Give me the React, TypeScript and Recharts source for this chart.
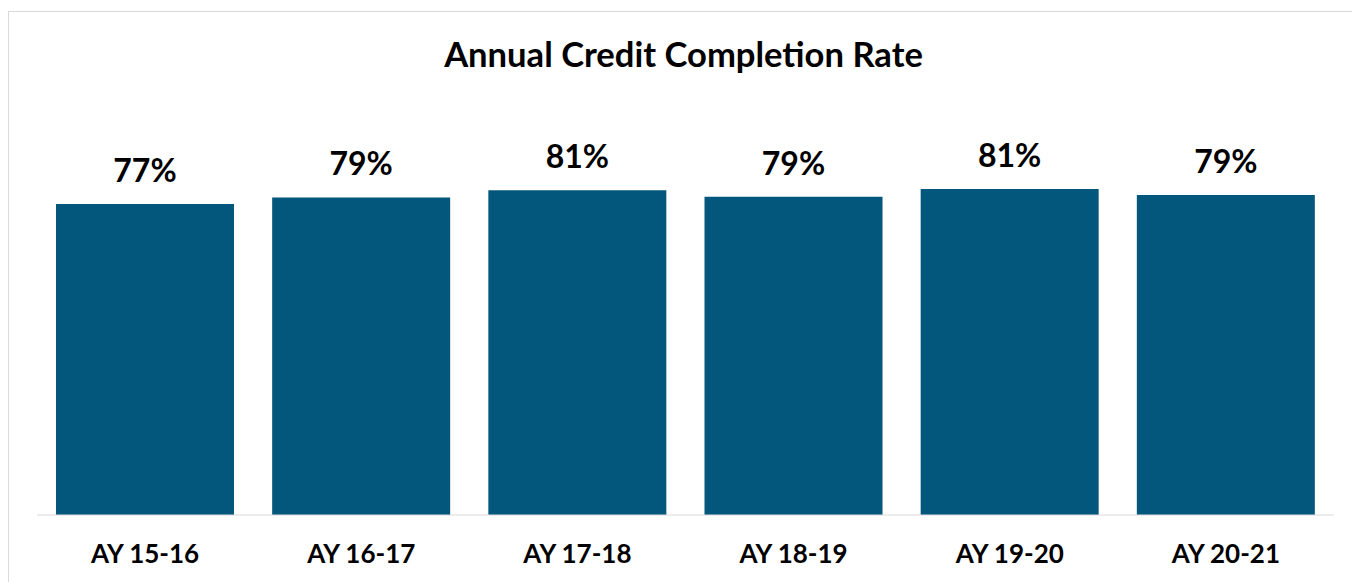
import React from "react";
import { BarChart, Bar, XAxis, YAxis, LabelList } from "recharts";

const categories = ["AY 15-16", "AY 16-17", "AY 17-18", "AY 18-19", "AY 19-20", "AY 20-21"];
const rates = [77.2, 78.8, 80.6, 79.0, 80.9, 79.4];
const title = "Annual Credit Completion Rate";

const data = categories.map((c, i) => ({ name: c, rate: rates[i] }));

const FONT = "Lato, 'Open Sans', sans-serif";

const Tick = (props: any) => {
  const { x, y, payload } = props;
  return (
    <text x={x} y={y + 48} textAnchor="middle" fontFamily={FONT} fontWeight={700} fontSize={26} fill="#000">
      {payload.value}
    </text>
  );
};

const ValueLabel = (props: any) => {
  const { x, y, width, value } = props;
  return (
    <text x={x + width / 2} y={y - 22} textAnchor="middle" fontFamily={FONT} fontWeight={700} fontSize={32} fill="#000">
      {Math.round(value) + "%"}
    </text>
  );
};

export default function App() {
  return (
    <div
      style={{
        position: "relative",
        marginTop: 3,
        width: 1351,
        height: 570,
        borderTop: "1px solid #d9d9d9",
        borderLeft: "1px solid #d9d9d9",
        background: "#fff",
      }}
    >
      <svg width={1351} height={80} style={{ position: "absolute", left: 0, top: 0 }}>
        <text x={674.5} y={55} textAnchor="middle" fontFamily={FONT} fontWeight={700} fontSize={34.6} fill="#000">
          {title}
        </text>
      </svg>
      <BarChart
        width={1351}
        height={570}
        data={data}
        margin={{ top: 100, right: 26, bottom: 0, left: 28 }}
        barCategoryGap={19}
      >
        <XAxis
          dataKey="name"
          height={67}
          axisLine={{ stroke: "#d9d9d9", strokeWidth: 1 }}
          tickLine={false}
          tickSize={0}
          tickMargin={0}
          tick={<Tick />}
          interval={0}
        />
        <YAxis hide domain={[0, 100]} />
        <Bar dataKey="rate" fill="#04577C" barSize={178} isAnimationActive={false}>
          <LabelList dataKey="rate" content={<ValueLabel />} />
        </Bar>
      </BarChart>
    </div>
  );
}
